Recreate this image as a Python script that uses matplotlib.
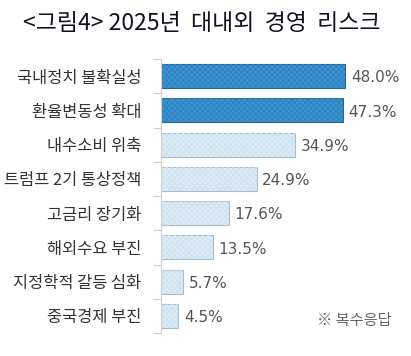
import matplotlib
matplotlib.use("Agg")
import matplotlib.pyplot as plt

categories = ["국내정치 불확실성", "환율변동성 확대", "내수소비 위축", "트럼프 2기 통상정책",
              "고금리 장기화", "해외수요 부진", "지정학적 갈등 심화", "중국경제 부진"]
values = [48.0, 47.3, 34.9, 24.9, 17.6, 13.5, 5.7, 4.5]
highlight = [True, True, False, False, False, False, False, False]

plt.rcParams["font.family"] = ["Noto Sans CJK KR", "DejaVu Sans"]
plt.rcParams["hatch.linewidth"] = 0.4

fig = plt.figure(figsize=(4.11, 3.56), dpi=100)
ax = fig.add_axes([161/411, 1-333/356, 238/411, 274/356])

ypos = list(range(len(values)))
face = ["#2c84c4" if h else "#cfe3f1" for h in highlight]
edge = ["#24679a" if h else "#a4bfd4" for h in highlight]
hatchc = ["#4d9bd3" if h else "#e6f1f8" for h in highlight]

ax.barh(ypos, values, height=0.7, color=face, edgecolor=edge, linewidth=0.8)
ax.barh(ypos, values, height=0.7, color="none", edgecolor=hatchc, linewidth=0, hatch="xxxxxx")

for y, v in zip(ypos, values):
    ax.text(v + 1.5, y + 0.05, f"{v:.1f}%", va="center", ha="left",
            fontsize=11, color="#555555", family="DejaVu Sans")

ax.set_xlim(0, 62)
ax.set_ylim(len(values) - 0.5, -0.5)
ax.set_yticks(ypos)
ax.set_yticklabels(categories, fontsize=11.8, color="#333333")
ax.set_yticks([i - 0.5 for i in range(len(values) + 1)], minor=True)
ax.tick_params(axis="y", which="major", length=0, pad=14)
ax.tick_params(axis="y", which="minor", length=6, color="#d0d0d0", width=0.8)
ax.set_xticks([])
for s in ["top", "right", "bottom"]:
    ax.spines[s].set_visible(False)
ax.spines["left"].set_color("#d0d0d0")
ax.spines["left"].set_linewidth(0.8)

fig.text(23/411, 1-23/356, "<그림4> 2025년  대내외  경영  리스크", fontsize=16.5,
         color="#111122", va="center", ha="left")
fig.text(392/411, 1-321/356, "※ 복수응답", fontsize=11, color="#666666",
         va="center", ha="right")

fig.savefig("out.png", dpi=100)
